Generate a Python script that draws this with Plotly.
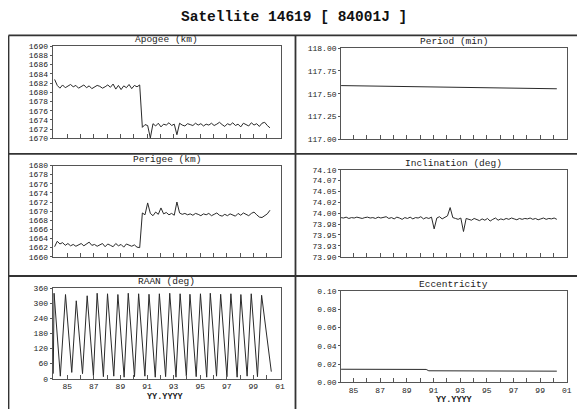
import plotly.graph_objects as go

# The page body has an 8 px margin, so the figure is sized and laid out in
# page pixels shifted by that offset.
PAGE_W, PAGE_H = 585, 414
OFF = 8
W, H = PAGE_W - OFF, PAGE_H - OFF

# ---------------- data ----------------
dates = [1984.05, 1984.25, 1984.45, 1984.65, 1984.85,
         1985.05, 1985.25, 1985.45, 1985.65, 1985.85,
         1986.05, 1986.25, 1986.45, 1986.65, 1986.85,
         1987.05, 1987.25, 1987.45, 1987.65, 1987.85,
         1988.05, 1988.25, 1988.45, 1988.65, 1988.85,
         1989.05, 1989.25, 1989.45, 1989.65, 1989.85,
         1990.05, 1990.25, 1990.45, 1990.65, 1990.85,
         1991.05, 1991.25, 1991.45, 1991.65, 1991.85,
         1992.05, 1992.25, 1992.45, 1992.65, 1992.85,
         1993.05, 1993.25, 1993.45, 1993.65, 1993.85,
         1994.05, 1994.25, 1994.45, 1994.65, 1994.85,
         1995.05, 1995.25, 1995.45, 1995.65, 1995.85,
         1996.05, 1996.25, 1996.45, 1996.65, 1996.85,
         1997.05, 1997.25, 1997.45, 1997.65, 1997.85,
         1998.05, 1998.25, 1998.45, 1998.65, 1998.85,
         1999.05, 1999.25, 1999.45, 1999.65, 1999.85,
         2000.05, 2000.25]

apogee = [1682.8, 1681.5, 1680.9, 1681.6, 1681.0, 1681.4, 1681.7, 1681.2, 1681.5, 1680.9,
          1681.3, 1681.6, 1681.0, 1681.4, 1680.8, 1681.1, 1681.5, 1681.3, 1680.9, 1681.2,
          1681.6, 1681.1, 1681.8, 1680.7, 1681.5, 1680.6, 1681.4, 1681.0, 1681.7, 1680.8,
          1681.5, 1681.2, 1681.6,
          1672.4, 1673.0, 1672.8, 1670.1, 1673.2, 1672.7, 1673.3, 1672.5, 1673.1, 1672.9,
          1673.4, 1672.8, 1673.1, 1670.8, 1673.3, 1672.9, 1672.7, 1673.2, 1673.0, 1672.8,
          1673.3, 1672.9, 1673.2, 1672.7, 1673.1, 1672.9, 1673.3, 1672.8, 1673.1, 1673.5,
          1673.0, 1672.6, 1673.2, 1672.9, 1673.4, 1672.8, 1673.1, 1672.5, 1673.3, 1673.0,
          1672.7, 1673.4, 1672.9, 1673.2, 1672.6, 1673.3, 1673.5, 1672.8, 1672.3]

perigee = [1662.2, 1663.4, 1662.8, 1663.1, 1662.5, 1662.9, 1662.4, 1662.7, 1662.3, 1662.6,
           1662.9, 1662.4, 1662.8, 1663.2, 1662.5, 1662.7, 1662.3, 1662.6, 1662.9, 1662.2,
           1662.8, 1662.5, 1662.2, 1662.9, 1662.4, 1662.7, 1662.1, 1662.8, 1662.5, 1662.3,
           1662.6, 1662.1, 1662.0,
           1669.6, 1669.2, 1671.8, 1669.5, 1669.0, 1669.8, 1669.3, 1670.7, 1669.4, 1669.7,
           1669.2, 1669.5, 1669.1, 1672.0, 1669.6, 1669.3, 1669.5, 1669.2, 1669.4, 1669.1,
           1669.5, 1669.3, 1669.0, 1669.4, 1669.2, 1669.5, 1669.0, 1669.3, 1669.6, 1669.1,
           1668.9, 1669.3, 1669.0, 1669.4, 1669.2, 1668.9, 1669.5, 1669.1, 1669.6, 1669.3,
           1669.0, 1669.5, 1669.8, 1669.2, 1668.7, 1668.6, 1669.0, 1669.4, 1670.2]

inclination = [73.990, 73.989, 73.991, 73.988, 73.990, 73.989, 73.991, 73.990, 73.988, 73.990,
               73.991, 73.989, 73.990, 73.988, 73.991, 73.989, 73.990, 73.992, 73.988, 73.990,
               73.987, 73.991, 73.989, 73.986, 73.990, 73.988, 73.991, 73.987, 73.990, 73.989,
               73.992, 73.987, 73.990, 73.988, 73.991, 73.964, 73.989, 73.992, 73.987, 73.991,
               73.994, 74.013, 73.990, 73.988, 73.986, 73.989, 73.958, 73.988, 73.986, 73.984,
               73.988, 73.985, 73.983, 73.987, 73.984, 73.988, 73.982, 73.986, 73.989, 73.984,
               73.987, 73.985, 73.988, 73.986, 73.989, 73.987, 73.985, 73.988, 73.986, 73.988,
               73.987, 73.989, 73.986, 73.988, 73.985, 73.987, 73.989, 73.986, 73.988, 73.987,
               73.989, 73.986]

period_dates = [1984.05, 1988.0, 1992.0, 1996.0, 2000.25]
period = [117.59, 117.58, 117.575, 117.565, 117.555]

ecc_dates = [1984.05, 1990.45, 1990.65, 2000.25]
eccentricity = [0.0143, 0.0141, 0.0126, 0.0122]

raan_dates = [1983.95,
              1984.01, 1984.48, 1984.87, 1985.34, 1985.68, 1986.15, 1986.50, 1986.97,
              1987.25, 1987.72, 1988.03, 1988.50, 1988.81, 1989.28, 1989.59, 1990.06,
              1990.37, 1990.84, 1991.15, 1991.62, 1991.93, 1992.40, 1992.71, 1993.18,
              1993.49, 1993.96, 1994.23, 1994.70, 1995.02, 1995.49, 1995.76, 1996.23,
              1996.54, 1997.01, 1997.31, 1997.78, 1998.06, 1998.53, 1998.84, 1999.31,
              1999.62, 2000.35]
raan = [20,
        340, 10, 335, 25, 310, 20, 330, 12,
        340, 8, 338, 10, 335, 6, 340, 8,
        338, 10, 336, 6, 338, 8, 340, 6,
        338, 10, 336, 8, 338, 6, 340, 10,
        336, 8, 338, 6, 335, 10, 338, 8,
        332, 28]

# tick labels
year_ticks = [1985, 1986, 1987, 1988, 1989, 1990, 1991, 1992, 1993, 1994,
              1995, 1996, 1997, 1998, 1999, 2000, 2001]
year_labels = ["85", "", "87", "", "89", "", "91", "", "93", "",
               "95", "", "97", "", "99", "", "01"]
apogee_ticks = [1670, 1672, 1674, 1676, 1678, 1680, 1682, 1684, 1686, 1688, 1690]
perigee_ticks = [1660, 1662, 1664, 1666, 1668, 1670, 1672, 1674, 1676, 1678, 1680]
period_ticks = [117.0, 117.25, 117.5, 117.75, 118.0]
period_labels = ["117.00", "117.25", "117.50", "117.75", "118.00"]
incl_ticks = [73.9, 73.925, 73.95, 73.975, 74.0, 74.025, 74.05, 74.075, 74.1]
incl_labels = ["73.90", "73.93", "73.95", "73.98", "74.00", "74.02", "74.05", "74.07", "74.10"]
raan_ticks = [0, 60, 120, 180, 240, 300, 360]
ecc_ticks = [0.0, 0.02, 0.04, 0.06, 0.08, 0.10]
ecc_labels = ["0.00", "0.02", "0.04", "0.06", "0.08", "0.10"]

titles = ["Apogee (km)", "Period (min)", "Perigee (km)",
          "Inclination (deg)", "RAAN (deg)", "Eccentricity"]

# ---------------- layout helpers ----------------
MONO = "Liberation Mono, Courier New, monospace"
LINE = "#2a2a2a"
FRAME = "#555555"


def px(x):
    """page x pixel -> paper fraction"""
    return (x - OFF) / W


def py(y):
    """page y pixel -> paper fraction"""
    return 1 - (y - OFF) / H


# plot-area boxes in page pixels: (x0, x1, ytop, ybottom)
boxes = [
    (53, 283, 43, 137.3),        # apogee
    (344, 571.7, 45, 138.3),     # period
    (53, 283, 165, 258.3),       # perigee
    (344, 571.7, 169.3, 258.3),  # inclination
    (53, 283, 290.5, 383),       # raan
    (344, 571.7, 293.3, 386.7),  # eccentricity
]
xranges = [[1983.9, 2001.05], [1984.07, 2001.0]] * 3

fig = go.Figure()

series = [
    (dates, apogee),
    (period_dates, period),
    (dates, perigee),
    (dates, inclination),
    (raan_dates, raan),
    (ecc_dates, eccentricity),
]
for i, (xs, ys) in enumerate(series):
    sfx = "" if i == 0 else str(i + 1)
    fig.add_trace(go.Scatter(x=xs, y=ys, mode="lines",
                             line=dict(color=LINE, width=1),
                             xaxis="x" + sfx, yaxis="y" + sfx,
                             showlegend=False, hoverinfo="skip"))

yspecs = [
    dict(range=[1670, 1690], tickvals=apogee_ticks, ticktext=[str(v) for v in apogee_ticks]),
    dict(range=[117.0, 118.0], tickvals=period_ticks, ticktext=period_labels),
    dict(range=[1660, 1680], tickvals=perigee_ticks, ticktext=[str(v) for v in perigee_ticks]),
    dict(range=[73.9, 74.1], tickvals=incl_ticks, ticktext=incl_labels),
    dict(range=[0, 360], tickvals=raan_ticks, ticktext=[str(v) for v in raan_ticks]),
    dict(range=[0, 0.1], tickvals=ecc_ticks, ticktext=ecc_labels),
]

layout = dict(width=W, height=H, autosize=False,
              margin=dict(l=0, r=0, t=0, b=0, pad=0),
              paper_bgcolor="white", plot_bgcolor="white",
              font=dict(family=MONO, size=8, color="#222"),
              showlegend=False)

annotations = []
for i, (x0, x1, yt, yb) in enumerate(boxes):
    sfx = "" if i == 0 else str(i + 1)
    bottom = i >= 4
    layout["xaxis" + sfx] = dict(
        domain=[px(x0), px(x1)], range=xranges[i], anchor="y" + sfx,
        showline=True, mirror=True, linecolor=FRAME, linewidth=1,
        showgrid=False, zeroline=False,
        tickmode="array", tickvals=year_ticks,
        ticktext=year_labels if bottom else [""] * len(year_ticks),
        showticklabels=bottom,
        ticks="inside", ticklen=4, tickcolor=FRAME, tickwidth=1,
        tickfont=dict(family=MONO, size=8, color="#222"),
        fixedrange=True)
    ys = yspecs[i]
    layout["yaxis" + sfx] = dict(
        domain=[py(yb), py(yt)], range=ys["range"], anchor="x" + sfx,
        showline=True, mirror=True, linecolor=FRAME, linewidth=1,
        showgrid=False, zeroline=False,
        tickmode="array", tickvals=ys["tickvals"], ticktext=ys["ticktext"],
        ticks="outside", ticklen=2, tickcolor=FRAME, tickwidth=1,
        tickfont=dict(family=MONO, size=8, color="#222"),
        fixedrange=True)
    annotations.append(dict(
        x=px((x0 + x1) / 2), y=py(yt - 6.5), xref="paper", yref="paper",
        text=titles[i], showarrow=False, xanchor="center", yanchor="middle",
        font=dict(family=MONO, size=9.5, color="#222")))

# x-axis titles
annotations.append(dict(x=px(167), y=py(402), xref="paper", yref="paper",
                        text="<b>YY.YYYY</b>", showarrow=False,
                        xanchor="center", yanchor="middle",
                        font=dict(family=MONO, size=8.5, color="#222")))
annotations.append(dict(x=px(458), y=py(405), xref="paper", yref="paper",
                        text="<b>YY.YYYY</b>", showarrow=False,
                        xanchor="center", yanchor="middle",
                        font=dict(family=MONO, size=8.5, color="#222")))
# main title
annotations.append(dict(x=px(296), y=py(13), xref="paper", yref="paper",
                        text="<b>Satellite 14619 [ 84001J ]</b>", showarrow=False,
                        xanchor="center", yanchor="middle",
                        font=dict(family=MONO, size=14.5, color="#111")))
layout["annotations"] = annotations

# panel border lines (page pixels)
BORDER = "#333333"
shapes = []
for (xa, ya, xb, yb2) in [(8.5, 32, 585, 32), (8.5, 153, 585, 153), (8.5, 278, 585, 278),
                          (8.5, 32, 8.5, 414), (298, 32, 298, 414)]:
    shapes.append(dict(type="line", xref="paper", yref="paper",
                       x0=px(xa), y0=py(ya), x1=px(xb), y1=py(yb2),
                       line=dict(color=BORDER, width=1.8)))
layout["shapes"] = shapes

fig.update_layout(**layout)
fig.write_html("out.html")
